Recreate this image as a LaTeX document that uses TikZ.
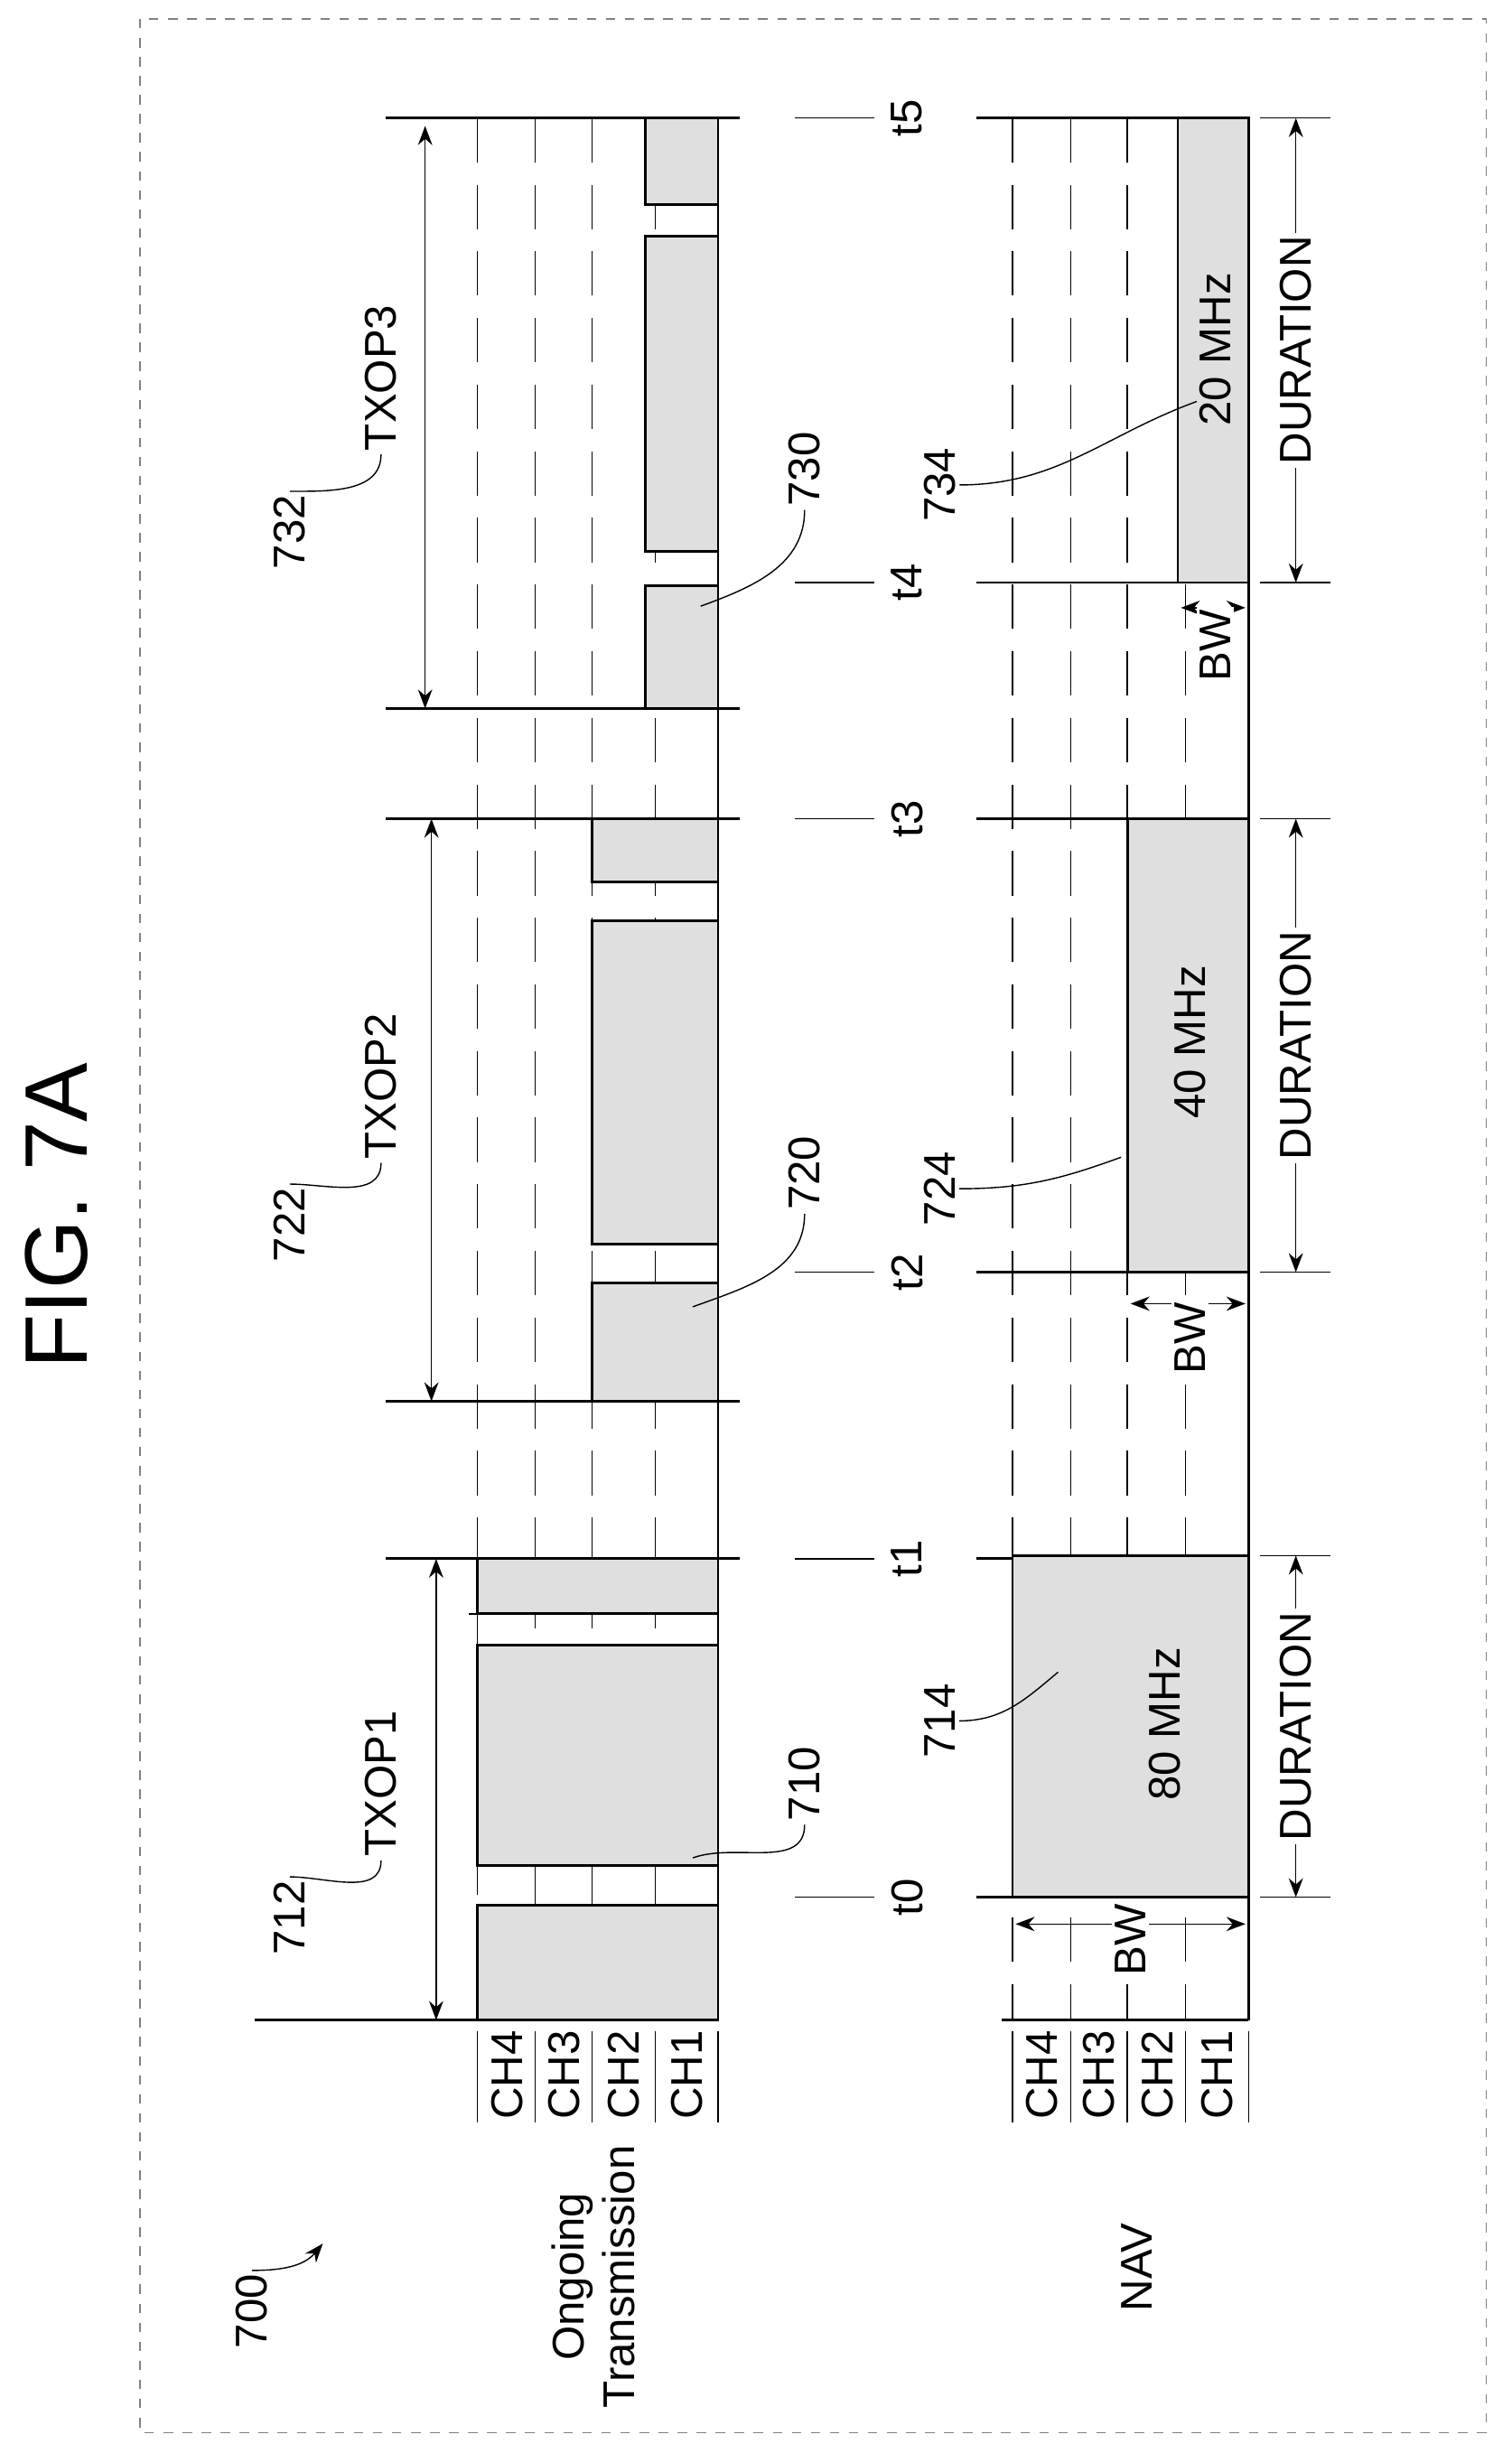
\documentclass[tikz,border=0pt]{standalone}
\usepackage{fontspec}
\setmainfont{Liberation Sans}
\usetikzlibrary{arrows.meta,positioning,calc}
\begin{document}
\begin{tikzpicture}[
    x=0.1744mm, y=-0.1744mm,
    font=\fontsize{14}{16}\selectfont,
    every node/.style={rotate=90, inner sep=1pt},
    frame/.style={draw=gray, dashed, thin},
    grid/.style={thin, dash pattern=on 14pt off 7pt},
    slot/.style={draw, thick, fill=gray!25},
    tline/.style={thick},
    dim/.style={thin, {Stealth[length=6pt]}-{Stealth[length=6pt]}},
    lead/.style={thin}
]
    \useasboundingbox (0,0) rectangle (960,1558);
    \draw[frame] (89,12) rectangle (944,1545);

    \node[font=\fontsize{28}{32}\selectfont] (fig) at (36,772) {FIG. 7A};

    % reference 700
    \node (n700) at (160,1468) {700};
    \coordinate (a700) at (205,1425);
    \draw[lead, -{Stealth[length=6pt]}] (n700.east) to[out=0, in=230] (a700);

    \node[align=center] (ongo) at (377,1446) {Ongoing\\Transmission};
    \node (nav) at (722,1440) {NAV};

    % channel grid lines
    \foreach \c in {303,340,376,416} {
        \draw[grid] (\c,75) -- (\c,1283);
        \draw[thin] (\c,1290) -- (\c,1348);
    }
    \foreach \c in {643,680,716,753} {
        \draw[grid] (\c,75) -- (\c,1283);
        \draw[thin] (\c,1290) -- (\c,1348);
    }
    \draw[tline] (456,75) -- (456,1283);
    \draw[tline] (793,75) -- (793,1283);
    \draw[thin] (456,1290) -- (456,1348);
    \draw[thin] (793,1290) -- (793,1348);

    % channel labels
    \foreach \x/\n in {322/CH4,358/CH3,396/CH2,436/CH1,662/CH4,698/CH3,735/CH2,773/CH1}
        \node (ch\x) at (\x,1318) {\n};

    % time lines (ongoing)
    \draw[tline] (162,1283) -- (456,1283);
    \draw[tline] (636,1283) -- (793,1283);
    \foreach \t in {990,890,520,450,75}
        \draw[tline] (245,\t) -- (470,\t);

    % busy slots (ongoing)
    \draw[slot] (303,1210) rectangle (456,1283);
    \draw[slot] (303,1045) rectangle (456,1185);
    \draw[slot] (303,990) rectangle (456,1025);
    \draw[slot] (376,815) rectangle (456,890);
    \draw[slot] (376,585) rectangle (456,790);
    \draw[slot] (376,520) rectangle (456,560);
    \draw[slot] (410,372) rectangle (456,450);
    \draw[slot] (410,150) rectangle (456,350);
    \draw[slot] (410,75) rectangle (456,130);
    \foreach \c in {340,376,416}
        \draw[thin] (\c,1185) -- (\c,1210);
    \draw[thin] (303,1025) -- (303,1045);
    \draw[thin] (298,1025) -- (308,1025);

    % TXOP spans
    \draw[dim] (277,1283) -- (277,990);
    \draw[dim] (274,890) -- (274,520);
    \draw[dim] (270,450) -- (270,80);
    \node (txop1) at (242,1133) {TXOP1};
    \node (txop2) at (242,690) {TXOP2};
    \node (txop3) at (242,240) {TXOP3};
    \node (n712) at (184,1218) {712};
    \node (n722) at (184,778) {722};
    \node (n732) at (184,338) {732};
    \draw[lead] (n712.east) to[out=0, in=-90] (txop1.west);
    \draw[lead] (n722.east) to[out=0, in=-90] (txop2.west);
    \draw[lead] (n732.east) to[out=0, in=-90] (txop3.west);

    % time marks
    \foreach \t/\l in {1205/t0,990/t1,808/t2,520/t3,370/t4,75/t5} {
        \draw[thin] (505,\t) -- (555,\t);
        \node (\l) at (576,\t) {\l};
        \draw[tline] (620,\t) -- (793,\t);
    }

    % NAV blocks
    \draw[slot] (643,988) rectangle (793,1205);
    \draw[slot] (716,520) rectangle (793,808);
    \draw[slot] (748,75) rectangle (793,370);
    \node (bw80) at (740,1095) {80 MHz};
    \node (bw40) at (756,662) {40 MHz};
    \node (bw20) at (772,222) {20 MHz};

    % BW arrows
    \draw[dim] (645,1222) -- (791,1222);
    \node[fill=white] (bwa) at (718,1232) {BW};
    \draw[dim] (718,828) -- (791,828);
    \node[fill=white] (bwb) at (756,850) {BW};
    \draw[dim] (750,386) -- (791,386);
    \node[fill=white] (bwc) at (772,410) {BW};

    % durations
    \foreach \s/\e in {1205/988,808/520,370/75} {
        \draw[thin] (800,\s) -- (845,\s);
        \draw[thin] (800,\e) -- (845,\e);
        \draw[dim] (823,\s) -- (823,\e);
        \node[fill=white] at (823,{(\s+\e)/2}) {DURATION};
    }

    % leaders
    \node (n710) at (511,1133) {710};
    \node (n720) at (511,745) {720};
    \node (n730) at (511,298) {730};
    \node (n714) at (597,1093) {714};
    \node (n724) at (597,755) {724};
    \node (n734) at (597,308) {734};
    \draw[lead] (n710.west) to[out=-90, in=20] (440,1180);
    \draw[lead] (n720.west) to[out=-90, in=20] (440,830);
    \draw[lead] (n730.west) to[out=-90, in=20] (445,385);
    \draw[lead] (n714.south) to[out=0, in=220] (672,1062);
    \draw[lead] (n724.south) to[out=0, in=200] (712,735);
    \draw[lead] (n734.south) to[out=0, in=200] (760,255);
\end{tikzpicture}
\end{document}
